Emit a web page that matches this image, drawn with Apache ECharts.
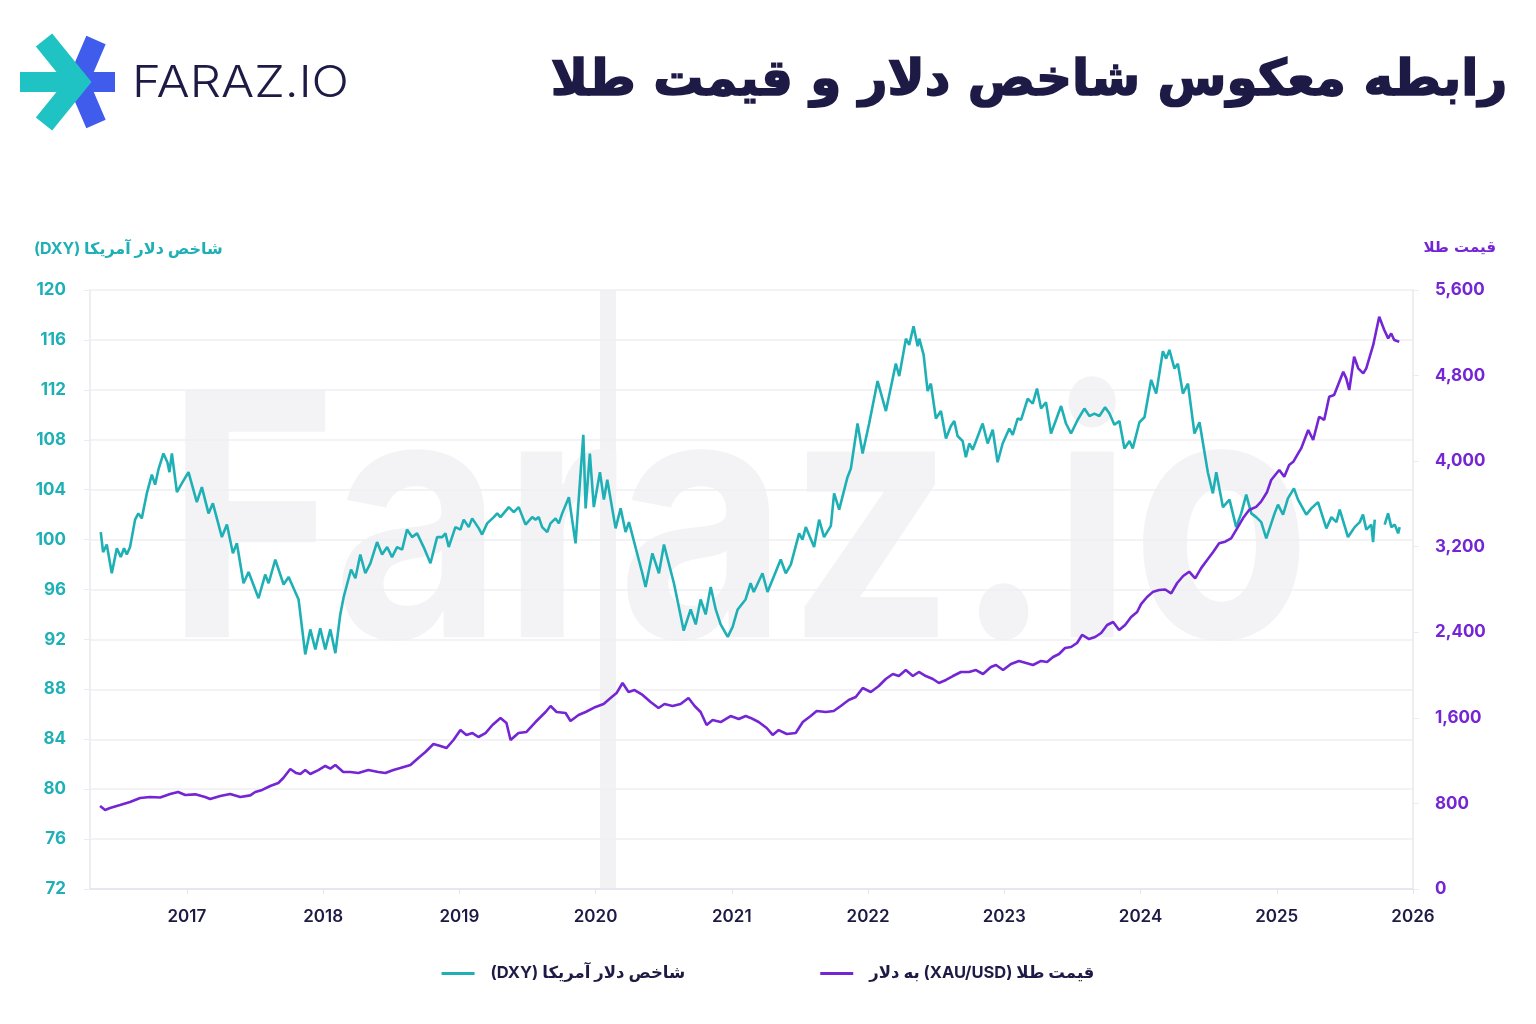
<!DOCTYPE html>
<html>
<head>
<meta charset="utf-8">
<script src="https://cdn.jsdelivr.net/npm/echarts@6/dist/echarts.min.js"></script>
<style>
  html, body { margin: 0; padding: 0; background: #ffffff; }
  #chart { width: 1536px; height: 1024px; }
</style>
</head>
<body>
<!-- متن فارسی: جهت راست به چپ -->
<div id="chart" dir="rtl"></div>
<script>
// ========== 数据 ==========
// x 轴为小数年份
const yearTicks = [2017, 2018, 2019, 2020, 2021, 2022, 2023, 2024, 2025, 2026];

const dxyYears = [
  2016.368, 2016.385, 2016.412, 2016.449, 2016.486, 2016.515, 2016.539, 2016.559, 2016.583, 2016.620,
  2016.644, 2016.669, 2016.706, 2016.743, 2016.767, 2016.791, 2016.828, 2016.857, 2016.872, 2016.890,
  2016.927, 2016.963, 2017.012, 2017.073, 2017.110, 2017.159, 2017.191, 2017.257, 2017.294, 2017.338,
  2017.367, 2017.416, 2017.453, 2017.526, 2017.575, 2017.600, 2017.649, 2017.710, 2017.747, 2017.820,
  2017.869, 2017.906, 2017.943, 2017.979, 2018.016, 2018.053, 2018.090, 2018.126, 2018.151, 2018.205,
  2018.237, 2018.273, 2018.310, 2018.347, 2018.396, 2018.433, 2018.470, 2018.506, 2018.543, 2018.580,
  2018.616, 2018.653, 2018.690, 2018.738, 2018.788, 2018.837, 2018.874, 2018.898, 2018.922, 2018.971,
  2019.008, 2019.032, 2019.069, 2019.094, 2019.143, 2019.167, 2019.204, 2019.253, 2019.278, 2019.302,
  2019.363, 2019.400, 2019.436, 2019.486, 2019.535, 2019.559, 2019.583, 2019.608, 2019.645, 2019.669,
  2019.706, 2019.730, 2019.755, 2019.804, 2019.853, 2019.910, 2019.927, 2019.958, 2019.987, 2020.032,
  2020.061, 2020.086, 2020.147, 2020.184, 2020.220, 2020.245, 2020.343, 2020.367, 2020.417, 2020.465,
  2020.502, 2020.575, 2020.600, 2020.647, 2020.698, 2020.735, 2020.771, 2020.808, 2020.845, 2020.882,
  2020.918, 2020.970, 2021.006, 2021.043, 2021.101, 2021.138, 2021.161, 2021.225, 2021.262, 2021.359,
  2021.396, 2021.433, 2021.494, 2021.519, 2021.543, 2021.604, 2021.641, 2021.677, 2021.727, 2021.751,
  2021.788, 2021.849, 2021.874, 2021.923, 2021.960, 2022.008, 2022.070, 2022.131, 2022.204, 2022.229,
  2022.278, 2022.302, 2022.334, 2022.364, 2022.376, 2022.408, 2022.437, 2022.461, 2022.498, 2022.535,
  2022.572, 2022.608, 2022.633, 2022.657, 2022.694, 2022.718, 2022.743, 2022.768, 2022.841, 2022.878,
  2022.915, 2022.951, 2022.988, 2023.037, 2023.062, 2023.098, 2023.123, 2023.172, 2023.209, 2023.240,
  2023.270, 2023.306, 2023.343, 2023.380, 2023.417, 2023.453, 2023.490, 2023.539, 2023.588, 2023.625,
  2023.661, 2023.698, 2023.740, 2023.772, 2023.808, 2023.845, 2023.882, 2023.919, 2023.943, 2023.992,
  2024.029, 2024.078, 2024.115, 2024.164, 2024.188, 2024.212, 2024.249, 2024.274, 2024.311, 2024.348,
  2024.396, 2024.433, 2024.494, 2024.531, 2024.556, 2024.605, 2024.653, 2024.702, 2024.739, 2024.776,
  2024.813, 2024.849, 2024.886, 2024.923, 2024.984, 2025.009, 2025.046, 2025.082, 2025.126, 2025.156,
  2025.217, 2025.254, 2025.303, 2025.364, 2025.401, 2025.438, 2025.462, 2025.523, 2025.572, 2025.609,
  2025.633, 2025.657, 2025.694, 2025.707, 2025.719, 2025.750, 2025.792, 2025.817, 2025.841, 2025.866,
  2025.891, 2025.902
];
const dxyValues = [
  100.6, 99.0, 99.6, 97.3, 99.3, 98.6, 99.3, 98.8, 99.4, 101.6,
  102.1, 101.7, 103.7, 105.2, 104.4, 105.6, 106.9, 106.2, 105.4, 106.9,
  103.8, 104.5, 105.4, 103.0, 104.2, 102.1, 102.9, 100.2, 101.2, 98.9,
  99.7, 96.5, 97.4, 95.3, 97.2, 96.5, 98.4, 96.4, 97.0, 95.2,
  90.8, 92.8, 91.2, 92.9, 91.2, 92.8, 90.9, 94.0, 95.4, 97.6,
  96.9, 98.8, 97.3, 98.1, 99.8, 98.8, 99.4, 98.6, 99.4, 99.2,
  100.8, 100.2, 100.5, 99.4, 98.1, 100.2, 100.2, 100.5, 99.4, 101.0,
  100.8, 101.6, 101.0, 101.7, 100.9, 100.4, 101.3, 101.8, 102.1, 101.8,
  102.6, 102.2, 102.6, 101.2, 101.8, 101.6, 101.8, 101.0, 100.6, 101.3,
  101.7, 101.3, 102.1, 103.4, 99.7, 108.4, 102.5, 106.9, 102.6, 105.4,
  103.2, 104.8, 100.9, 102.5, 100.6, 101.4, 97.3, 96.2, 98.9, 97.3,
  99.6, 96.5, 95.2, 92.7, 94.4, 93.2, 95.2, 94.0, 96.2, 94.4,
  93.2, 92.2, 93.0, 94.4, 95.2, 96.5, 95.8, 97.3, 95.8, 98.4,
  97.3, 98.0, 100.5, 100.0, 101.0, 99.4, 101.6, 100.2, 101.1, 103.7,
  102.4, 105.0, 105.7, 109.3, 106.9, 109.3, 112.7, 110.3, 114.1, 113.1,
  116.1, 115.6, 117.1, 115.5, 116.1, 114.8, 111.9, 112.5, 109.7, 110.3,
  108.1, 109.1, 109.5, 108.3, 107.9, 106.6, 107.7, 107.2, 109.3, 107.7,
  108.8, 106.2, 107.7, 108.9, 108.4, 109.7, 109.6, 111.3, 110.9, 112.1,
  110.5, 111.0, 108.5, 109.6, 110.7, 109.3, 108.5, 109.6, 110.5, 109.9,
  110.1, 109.9, 110.6, 110.1, 109.2, 109.5, 107.3, 107.9, 107.3, 109.4,
  109.8, 112.8, 111.7, 115.1, 114.5, 115.2, 113.7, 114.1, 111.7, 112.5,
  108.5, 109.4, 105.4, 103.7, 105.4, 102.6, 103.2, 101.0, 102.1, 103.6,
  102.1, 101.8, 101.4, 100.1, 102.1, 102.8, 102.0, 103.3, 104.1, 103.2,
  102.0, 102.5, 103.0, 100.9, 101.8, 101.4, 102.4, 100.2, 101.0, 101.4,
  102.0, 100.8, 101.2, 99.8, 101.6, null, 101.2, 102.1, 101.0, 101.2,
  100.5, 101.0
];

const goldYears = [
  2016.363, 2016.400, 2016.436, 2016.510, 2016.583, 2016.657, 2016.730, 2016.804, 2016.877, 2016.936,
  2016.988, 2017.061, 2017.134, 2017.171, 2017.245, 2017.318, 2017.392, 2017.465, 2017.502, 2017.553,
  2017.612, 2017.671, 2017.708, 2017.759, 2017.803, 2017.833, 2017.869, 2017.906, 2017.965, 2018.016,
  2018.053, 2018.090, 2018.148, 2018.200, 2018.259, 2018.332, 2018.405, 2018.457, 2018.516, 2018.567,
  2018.641, 2018.699, 2018.751, 2018.810, 2018.861, 2018.905, 2018.957, 2019.008, 2019.052, 2019.096,
  2019.140, 2019.192, 2019.243, 2019.302, 2019.346, 2019.376, 2019.434, 2019.493, 2019.559, 2019.633,
  2019.670, 2019.714, 2019.780, 2019.816, 2019.875, 2019.927, 2020.000, 2020.059, 2020.110, 2020.154,
  2020.198, 2020.242, 2020.286, 2020.345, 2020.404, 2020.462, 2020.506, 2020.565, 2020.624, 2020.682,
  2020.727, 2020.771, 2020.815, 2020.859, 2020.918, 2020.991, 2021.051, 2021.102, 2021.138, 2021.197,
  2021.256, 2021.300, 2021.344, 2021.403, 2021.469, 2021.521, 2021.579, 2021.623, 2021.690, 2021.748,
  2021.800, 2021.858, 2021.910, 2021.961, 2022.020, 2022.079, 2022.130, 2022.182, 2022.226, 2022.277,
  2022.329, 2022.373, 2022.424, 2022.476, 2022.520, 2022.572, 2022.623, 2022.682, 2022.741, 2022.792,
  2022.844, 2022.902, 2022.939, 2022.991, 2023.049, 2023.108, 2023.160, 2023.211, 2023.270, 2023.314,
  2023.358, 2023.402, 2023.446, 2023.490, 2023.534, 2023.571, 2023.622, 2023.667, 2023.711, 2023.755,
  2023.799, 2023.843, 2023.887, 2023.931, 2023.975, 2024.004, 2024.048, 2024.093, 2024.137, 2024.181,
  2024.225, 2024.269, 2024.313, 2024.357, 2024.401, 2024.445, 2024.489, 2024.533, 2024.577, 2024.621,
  2024.665, 2024.709, 2024.753, 2024.797, 2024.849, 2024.885, 2024.929, 2024.959, 2025.018, 2025.055,
  2025.091, 2025.121, 2025.157, 2025.179, 2025.231, 2025.267, 2025.311, 2025.348, 2025.385, 2025.421,
  2025.488, 2025.510, 2025.532, 2025.568, 2025.598, 2025.635, 2025.657, 2025.708, 2025.752, 2025.789,
  2025.818, 2025.840, 2025.862, 2025.899
];
const goldValues = [
  776, 739, 757, 785, 813, 851, 860, 855, 888, 907,
  879, 885, 860, 841, 869, 888, 860, 875, 907, 926,
  963, 991, 1038, 1122, 1084, 1075, 1112, 1075, 1112, 1150,
  1125, 1159, 1094, 1094, 1084, 1112, 1094, 1084, 1112, 1131,
  1159, 1225, 1281, 1356, 1337, 1318, 1393, 1486, 1440, 1458,
  1421, 1458, 1533, 1599, 1552, 1393, 1458, 1468, 1561, 1655,
  1711, 1655, 1645, 1571, 1627, 1655, 1702, 1730, 1786, 1832,
  1926, 1842, 1860, 1814, 1748, 1692, 1730, 1711, 1730, 1786,
  1711, 1655, 1533, 1580, 1561, 1617, 1589, 1617, 1599, 1561,
  1505, 1440, 1486, 1449, 1458, 1561, 1617, 1664, 1655, 1664,
  1711, 1767, 1795, 1879, 1842, 1898, 1963, 2010, 1991, 2047,
  1991, 2029, 1991, 1963, 1926, 1954, 1991, 2029, 2029, 2047,
  2010, 2076, 2094, 2047, 2104, 2132, 2113, 2094, 2132, 2122,
  2169, 2197, 2253, 2262, 2300, 2375, 2337, 2356, 2393, 2468,
  2496, 2421, 2468, 2543, 2590, 2664, 2730, 2780, 2795, 2800,
  2764, 2861, 2926, 2966, 2904, 3000, 3076, 3151, 3232, 3247,
  3278, 3372, 3468, 3543, 3573, 3621, 3712, 3824, 3917, 3855,
  3964, 3994, 4073, 4119, 4291, 4198, 4415, 4385, 4602, 4618,
  4836, 4774, 4665, 4976, 4868, 4820, 4868, 5086, 5350, 5226,
  5148, 5194, 5133, 5117
];

// ========== 样式常量 ==========
const teal = '#1fb0b6';
const purple = '#7425d4';
const navy = '#1d1b45';
const fontStack = "Inter, 'DejaVu Sans', sans-serif";

const chart = echarts.init(document.getElementById('chart'));

const dxyData = dxyYears.map((t, i) => [t, dxyValues[i]]);
const goldData = goldYears.map((t, i) => [t, goldValues[i]]);

const option = {
  backgroundColor: '#ffffff',
  animation: false,
  textStyle: { fontFamily: fontStack },
  grid: { left: 90, right: 123, top: 290, bottom: 135 },
  graphic: [
    // 背景水印
    {
      type: 'rect', z: -10, silent: true,
      shape: { x: 600, y: 290, width: 16, height: 599 },
      style: { fill: '#f2f2f5' }
    },
    {
      type: 'text', z: -10, silent: true, x: 166, y: 365, scaleX: 0.86,
      style: {
        text: 'Faraz.io', fill: '#f3f3f6',
        font: "bold 340px Inter, 'DejaVu Sans', sans-serif",
        textVerticalAlign: 'top'
      }
    },
    // 标志
    {
      type: 'group', x: 20, y: 38,
      children: [
        { type: 'polyline', shape: { points: [[76, 2], [58, 44], [76, 86]] },
          style: { stroke: '#3f5cec', lineWidth: 21, fill: null } },
        { type: 'rect', shape: { x: 58, y: 34, width: 37, height: 20 }, style: { fill: '#3f5cec' } },
        { type: 'polyline', shape: { points: [[24, 2], [58, 44], [24, 86]] },
          style: { stroke: '#20c3c3', lineWidth: 21, fill: null } },
        { type: 'rect', shape: { x: 0, y: 34, width: 52, height: 20 }, style: { fill: '#20c3c3' } }
      ]
    },
    {
      type: 'text', x: 132, y: 62, scaleX: 1.12,
      style: {
        text: 'FARAZ.IO', fill: navy,
        font: "300 44px Inter, 'DejaVu Sans', sans-serif",
        textVerticalAlign: 'top'
      }
    },
    // 标题
    {
      type: 'text', right: 28, top: 56,
      style: {
        text: 'رابطه معکوس شاخص دلار و قیمت طلا', fill: navy,
        stroke: navy, lineWidth: 1.6,
        font: "bold 50px 'DejaVu Sans', sans-serif"
      }
    },
    // 坐标轴名称
    {
      type: 'text', left: 34, top: 241,
      style: { text: 'شاخص دلار آمریکا (DXY)', fill: teal, font: "bold 16px Inter, 'DejaVu Sans', sans-serif" }
    },
    {
      type: 'text', right: 40, top: 241,
      style: { text: 'قیمت طلا', fill: purple, font: "bold 15px 'DejaVu Sans', sans-serif" }
    }
  ],
  legend: {
    bottom: 37,
    left: 'center',
    icon: 'rect',
    itemWidth: 33,
    itemHeight: 3,
    itemGap: 135,
    textStyle: {
      color: navy, fontSize: 16.5, fontWeight: 'bold', fontFamily: fontStack,
      padding: [0, 0, 0, 11]
    },
    data: ['شاخص دلار آمریکا (DXY)', 'قیمت طلا (XAU/USD) به دلار']
  },
  xAxis: {
    type: 'value',
    min: 2016.289,
    max: 2026,
    axisLine: { show: true, lineStyle: { color: '#e4e4ea', width: 1.5 } },
    axisTick: { show: true, customValues: yearTicks, length: 5, lineStyle: { color: '#e4e4ea' } },
    axisLabel: {
      customValues: yearTicks,
      formatter: v => String(v),
      color: navy, fontSize: 17, fontWeight: 600, margin: 19
    },
    splitLine: { show: false }
  },
  yAxis: [
    {
      type: 'value',
      min: 72, max: 120, interval: 4,
      axisLine: { show: true, lineStyle: { color: '#e8e8ee', width: 1.5 } },
      axisTick: { show: true, length: 6, lineStyle: { color: '#ececf0' } },
      axisLabel: { color: teal, fontSize: 17, fontWeight: 'bold', margin: 24 },
      splitLine: { show: true, lineStyle: { color: '#efeff3', width: 1.5 } }
    },
    {
      type: 'value',
      min: 0, max: 5600, interval: 800,
      position: 'right',
      axisLine: { show: true, lineStyle: { color: '#e8e8ee', width: 1.5 } },
      axisTick: { show: true, length: 6, lineStyle: { color: '#ececf0' } },
      axisLabel: {
        color: purple, fontSize: 17, fontWeight: 'bold', margin: 22,
        formatter: v => v.toLocaleString('en-US')
      },
      splitLine: { show: false }
    }
  ],
  series: [
    {
      name: 'شاخص دلار آمریکا (DXY)',
      type: 'line',
      yAxisIndex: 0,
      showSymbol: false,
      connectNulls: false,
      lineStyle: { color: teal, width: 2.6 },
      itemStyle: { color: teal },
      data: dxyData
    },
    {
      name: 'قیمت طلا (XAU/USD) به دلار',
      type: 'line',
      yAxisIndex: 1,
      showSymbol: false,
      lineStyle: { color: purple, width: 2.6 },
      itemStyle: { color: purple },
      data: goldData
    }
  ]
};

chart.setOption(option);
</script>
</body>
</html>
